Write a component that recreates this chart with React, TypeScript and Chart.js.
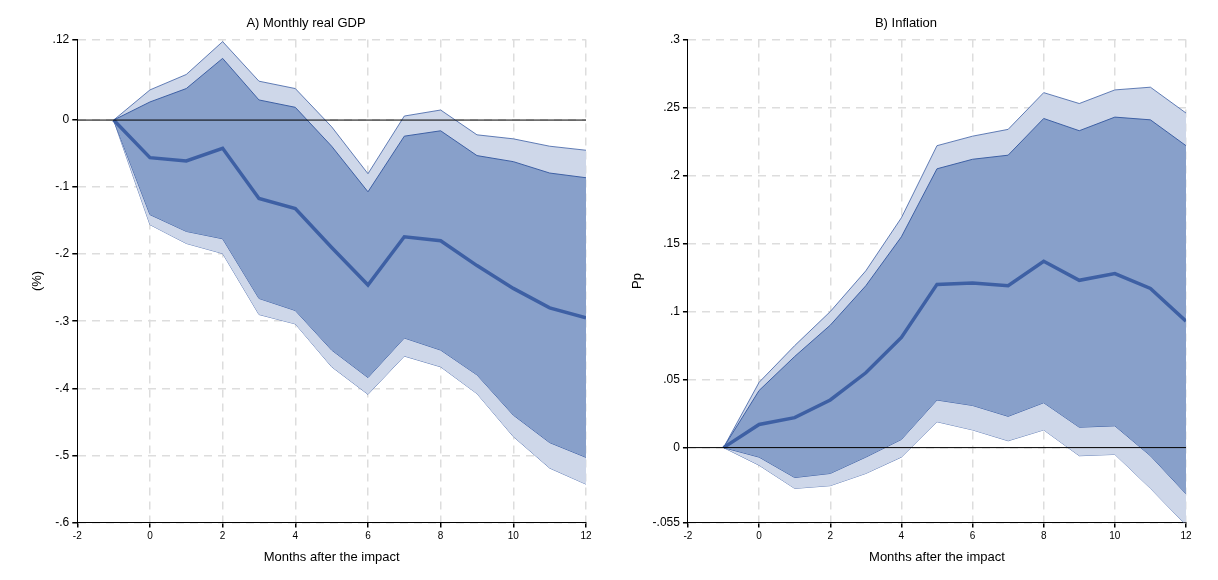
import React, { useEffect, useRef } from "react";
import { Chart, registerables } from "chart.js";
Chart.register(...registerables);

const months = [-1, 0, 1, 2, 3, 4, 5, 6, 7, 8, 9, 10, 11, 12];

const gdpMid = [0, -0.056, -0.061, -0.042, -0.117, -0.132, -0.19, -0.246, -0.174, -0.18, -0.217, -0.251, -0.28, -0.295];
const gdpInUp = [0, 0.027, 0.047, 0.092, 0.03, 0.019, -0.039, -0.107, -0.024, -0.016, -0.053, -0.062, -0.079, -0.086];
const gdpInLo = [0, -0.141, -0.166, -0.177, -0.266, -0.284, -0.343, -0.384, -0.325, -0.343, -0.38, -0.44, -0.481, -0.503];
const gdpOutUp = [0, 0.045, 0.068, 0.117, 0.058, 0.047, -0.01, -0.08, 0.006, 0.015, -0.022, -0.028, -0.039, -0.045];
const gdpOutLo = [0, -0.156, -0.184, -0.199, -0.29, -0.304, -0.368, -0.409, -0.352, -0.368, -0.408, -0.472, -0.519, -0.543];

const infMid = [0, 0.017, 0.022, 0.035, 0.055, 0.081, 0.12, 0.121, 0.119, 0.137, 0.123, 0.128, 0.117, 0.093];
const infInUp = [0, 0.042, 0.067, 0.09, 0.119, 0.155, 0.205, 0.212, 0.215, 0.242, 0.233, 0.243, 0.241, 0.222];
const infInLo = [0, -0.007, -0.022, -0.019, -0.007, 0.006, 0.035, 0.031, 0.023, 0.033, 0.015, 0.016, -0.006, -0.034];
const infOutUp = [0, 0.048, 0.075, 0.1, 0.13, 0.169, 0.222, 0.229, 0.234, 0.261, 0.253, 0.263, 0.265, 0.246];
const infOutLo = [0, -0.013, -0.03, -0.028, -0.019, -0.007, 0.019, 0.013, 0.005, 0.013, -0.006, -0.005, -0.03, -0.057];

const FONT = "'Liberation Sans', Arial, sans-serif";
const LINE = "rgb(62,96,164)";
const INNER = "rgb(136,160,202)";
const OUTER = "rgb(206,215,233)";

const fmt = (v: number) => {
  const r = Math.round(v * 1000) / 1000;
  if (r === 0) return "0";
  let s = String(r);
  return s.replace(/^(-?)0\./, "$1.");
};

const zeroLine = {
  id: "zeroLine",
  afterDatasetsDraw(chart: any) {
    const { ctx, chartArea, scales } = chart;
    const y = scales.y.getPixelForValue(0);
    ctx.save();
    ctx.strokeStyle = "#000";
    ctx.lineWidth = 1;
    ctx.beginPath();
    ctx.moveTo(chartArea.left, y);
    ctx.lineTo(chartArea.right, y);
    ctx.stroke();
    ctx.restore();
  },
};

function Panel(props: any) {
  const ref = useRef<HTMLCanvasElement>(null);
  useEffect(() => {
    const pts = (a: number[]) => months.map((m, i) => ({ x: m, y: a[i] }));
    const band = (d: number[], fill: any, bg: string, w: number) => ({
      data: pts(d), borderColor: LINE, borderWidth: w, pointRadius: 0, fill, backgroundColor: bg, tension: 0,
    });
    const chart = new Chart(ref.current!, {
      type: "line",
      data: {
        datasets: [
          { data: pts(props.mid), borderColor: LINE, borderWidth: 3.5, pointRadius: 0, fill: false },
          band(props.inUp, "+1", INNER, 1),
          band(props.inLo, false, INNER, 1),
          band(props.outUp, "+1", OUTER, 0.8),
          band(props.outLo, false, OUTER, 0.8),
        ] as any,
      },
      options: {
        animation: false,
        responsive: false,
        layout: { padding: { left: 10, right: 30, top: 4, bottom: 4 } },
        plugins: {
          legend: { display: false },
          tooltip: { enabled: false },
          title: { display: true, text: props.title, color: "#000", font: { family: FONT, size: 13, weight: "normal" }, padding: { top: 4, bottom: 8 } },
        },
        scales: {
          x: {
            type: "linear", min: -2, max: 12,
            ticks: { stepSize: 2, color: "#000", font: { family: FONT, size: 10 } },
            grid: { color: (c: any) => (c.tick && c.tick.value === -2 ? "rgba(0,0,0,0)" : "#ddd"), lineWidth: 1.5, tickColor: "#000", tickLength: 5 },
            border: { color: "#000", dash: [8, 6] },
            title: { display: true, text: "Months after the impact", color: "#000", font: { family: FONT, size: 13 } },
          },
          y: {
            min: props.ymin, max: props.ymax,
            ticks: { stepSize: props.step, color: "#000", font: { family: FONT, size: 12 }, callback: (v: any) => fmt(v) },
            grid: { color: "#ddd", lineWidth: 1.5, tickColor: "#000", tickLength: 5 },
            border: { color: "#000", dash: [8, 6] },
            title: { display: true, text: props.ylabel, color: "#000", font: { family: FONT, size: 13 } },
          },
        },
      } as any,
      plugins: [zeroLine],
    });
    return () => chart.destroy();
  }, []);
  return <canvas ref={ref} width={600} height={565} style={{ position: "absolute", left: props.left, top: 0 }} />;
}

export default function App() {
  return (
    <div style={{ position: "relative", width: 1218, height: 572, background: "#fff" }}>
      <Panel left={8} title="A) Monthly real GDP" ylabel="(%)" mid={gdpMid} inUp={gdpInUp} inLo={gdpInLo} outUp={gdpOutUp} outLo={gdpOutLo} ymin={-0.6} ymax={0.12} step={0.1} />
      <Panel left={608} title="B) Inflation" ylabel="Pp" mid={infMid} inUp={infInUp} inLo={infInLo} outUp={infOutUp} outLo={infOutLo} ymin={-0.055} ymax={0.3} step={0.05} />
    </div>
  );
}
